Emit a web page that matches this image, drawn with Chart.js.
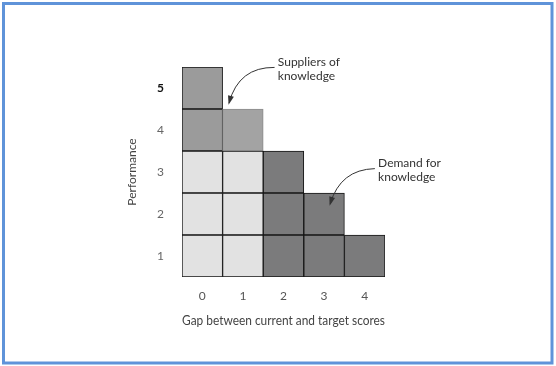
<!DOCTYPE html>
<html>
<head>
<meta charset="utf-8">
<script src="https://cdn.jsdelivr.net/npm/chart.js@4/dist/chart.umd.min.js"></script>
<style>
  html, body { margin: 0; padding: 0; background: #ffffff; }
  canvas { display: block; }
</style>
</head>
<body>
<canvas id="c" width="556" height="366"></canvas>
<script>
// ---- data ----
const gapLabels = ['0', '1', '2', '3', '4'];
const performanceLevels = [1, 2, 3, 4, 5];
const columnHeights = [5, 4, 3, 2, 1];
// shade of each cell, by performance level (bottom to top), per gap column
const shadeByLevel = [
  ['base', 'base', 'demand', 'demand', 'demand'],
  ['base', 'base', 'demand', 'demand', null],
  ['base', 'base', 'demand', null, null],
  ['supplier', 'supplierLight', null, null, null],
  ['supplier', null, null, null, null]
];
const xTitle = 'Gap between current and target scores';
const yTitle = 'Performance';
const annotations = [
  { lines: ['Suppliers of', 'knowledge'], textX: 1.86, textY: 5.12, from: [1.78, 4.99], ctrl: [0.9, 5.0], to: [0.66, 4.15] },
  { lines: ['Demand for', 'knowledge'], textX: 4.33, textY: 2.71, from: [4.25, 2.58], ctrl: [3.4, 2.56], to: [3.15, 1.74] }
];

// ---- styles ----
const fillColors = { base: '#e2e2e2', supplier: '#9b9b9b', supplierLight: '#a3a3a3', demand: '#7b7b7c' };
const edgeColors = { base: '#151515', supplier: '#151515', supplierLight: '#8c8c8c', demand: '#151515' };
const FONT = 'Lato, "DejaVu Sans", sans-serif';

const datasets = performanceLevels.map((lvl, k) => ({
  label: 'Performance ' + lvl,
  data: gapLabels.map((_, i) => columnHeights[i] >= lvl ? 1 : null),
  backgroundColor: shadeByLevel[k].map(s => s ? fillColors[s] : 'transparent'),
  borderColor: shadeByLevel[k].map(s => s ? edgeColors[s] : 'transparent'),
  borderWidth: 1,
  borderSkipped: false,
  barPercentage: 1,
  categoryPercentage: 1
}));

const framePlugin = {
  id: 'frame',
  beforeDraw(chart) {
    const ctx = chart.ctx;
    ctx.save();
    ctx.fillStyle = '#ffffff';
    ctx.fillRect(0, 0, chart.width, chart.height);
    ctx.strokeStyle = '#5f93d9';
    ctx.lineWidth = 3;
    ctx.strokeRect(3.5, 3.5, 548.5, 359.5);
    ctx.restore();
  }
};

const annotationPlugin = {
  id: 'notes',
  afterDatasetsDraw(chart) {
    const ctx = chart.ctx;
    const xs = chart.scales.x, ys = chart.scales.y;
    const px = v => xs.getPixelForValue(v);
    const py = v => ys.getPixelForValue(v);
    ctx.save();
    ctx.fillStyle = '#333333';
    ctx.strokeStyle = '#333333';
    ctx.font = '12px ' + FONT;
    ctx.textAlign = 'left';
    ctx.textBaseline = 'middle';
    annotations.forEach(a => {
      a.lines.forEach((t, j) => ctx.fillText(t, px(a.textX), py(a.textY) + j * 14));
      const x0 = px(a.from[0]), y0 = py(a.from[1]);
      const cx = px(a.ctrl[0]), cy = py(a.ctrl[1]);
      const x1 = px(a.to[0]), y1 = py(a.to[1]);
      ctx.lineWidth = 1;
      ctx.beginPath();
      ctx.moveTo(x0, y0);
      ctx.quadraticCurveTo(cx, cy, x1, y1);
      ctx.stroke();
      const ang = Math.atan2(y1 - cy, x1 - cx);
      const L = 7, W = 3;
      ctx.beginPath();
      ctx.moveTo(x1 + Math.cos(ang) * 2, y1 + Math.sin(ang) * 2);
      ctx.lineTo(x1 - Math.cos(ang) * L + Math.sin(ang) * W, y1 - Math.sin(ang) * L - Math.cos(ang) * W);
      ctx.lineTo(x1 - Math.cos(ang) * L - Math.sin(ang) * W, y1 - Math.sin(ang) * L + Math.cos(ang) * W);
      ctx.closePath();
      ctx.fill();
    });
    ctx.restore();
  }
};

new Chart(document.getElementById('c'), {
  type: 'bar',
  data: { labels: gapLabels, datasets },
  plugins: [framePlugin, annotationPlugin],
  options: {
    responsive: false,
    animation: false,
    layout: { padding: { left: 120, right: 171, top: 67, bottom: 30 } },
    plugins: { legend: { display: false }, tooltip: { enabled: false } },
    scales: {
      x: {
        stacked: true,
        grid: { display: false, drawTicks: false },
        border: { display: false },
        ticks: { padding: 12, color: '#555555', font: { family: FONT, size: 12 } },
        title: { display: true, text: xTitle, color: '#444444', padding: { top: 0, bottom: 7 }, font: { family: FONT, size: 13 } },
        afterFit(s) { s.height = 59; }
      },
      y: {
        stacked: true,
        min: 0,
        max: 5,
        grid: { display: false, drawTicks: false },
        border: { display: false },
        afterBuildTicks(s) { s.ticks = performanceLevels.map(v => ({ value: v - 0.5 })); },
        ticks: {
          padding: 18,
          callback: (v, i) => String(performanceLevels[i]),
          color: ctx => ctx.index === performanceLevels.length - 1 ? '#111111' : '#666666',
          font: ctx => ({ family: FONT, size: 12, weight: ctx.index === performanceLevels.length - 1 ? 'bold' : 'normal' })
        },
        title: { display: true, text: yTitle, color: '#444444', padding: { top: 5, bottom: 0 }, font: { family: FONT, size: 12 } },
        afterFit(s) { s.width = 62; }
      }
    }
  }
});
</script>
</body>
</html>
